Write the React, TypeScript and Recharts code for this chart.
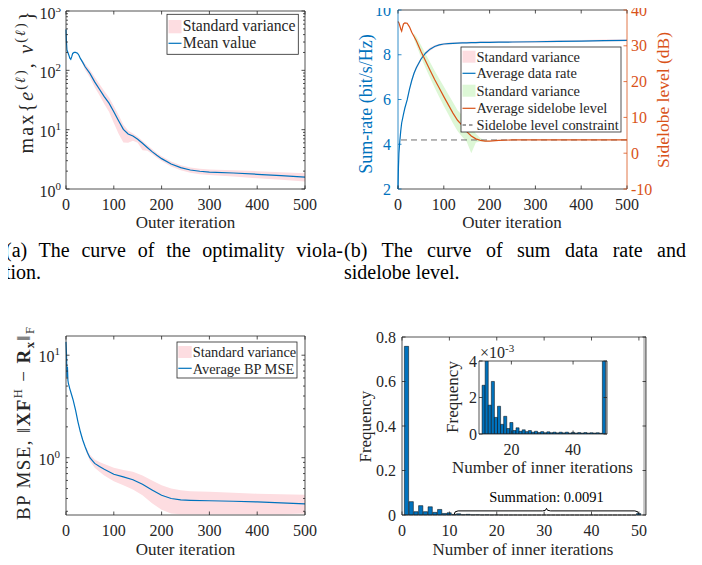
import { ComposedChart, Line, Area, Bar, XAxis, YAxis, ReferenceLine, ReferenceArea } from 'recharts';

const SERIF = '"Liberation Serif", "Times New Roman", serif';
const INK = '#262626';
const BLUE = '#0072BD';
const ORANGE = '#D95319';
const PINK = '#FDDDE1';
const GREEN = '#DDF7D6';

// (a) optimality violation
const aIter = [0, 1, 2, 4, 6, 8, 10, 12, 14, 17, 20, 24, 27, 30, 35, 40, 50, 60, 70, 80, 90, 100, 110, 120, 130, 140, 150, 160, 170, 180, 190, 200, 220, 240, 260, 280, 300, 350, 400, 450, 500];
const aMean = [490, 300, 220, 200, 180, 160, 153, 170, 193, 200, 200, 194, 180, 159, 136, 115, 89, 64, 48, 36, 28, 20, 14.1, 10.1, 8.45, 7.8, 6.9, 5.9, 5.0, 4.26, 3.7, 3.25, 2.64, 2.29, 2.09, 1.99, 1.93, 1.86, 1.77, 1.68, 1.59];
const aLo = [null, null, null, null, null, null, null, null, null, null, null, null, null, 159, 127, 101, 76, 52, 38, 27, 20, 13, 8.5, 6.1, 6.0, 6.5, 6.0, 4.5, 4.4, 3.9, 3.35, 2.95, 2.4, 2.07, 1.88, 1.78, 1.72, 1.62, 1.52, 1.43, 1.34];
const aHi = [null, null, null, null, null, null, null, null, null, null, null, null, null, 159, 146, 129, 102, 77, 59, 45, 35, 25, 17.6, 12.1, 9.7, 8.6, 7.6, 6.5, 5.5, 4.7, 4.05, 3.55, 2.9, 2.52, 2.3, 2.2, 2.14, 2.08, 2.0, 1.92, 1.84];
const aTicks = [1, 2, 3, 4, 5, 6, 7, 8, 9, 10, 20, 30, 40, 50, 60, 70, 80, 90, 100, 200, 300, 400, 500, 600, 700, 800, 900, 1000];

// (b) sum rate and sidelobe level
const bIter = [0, 1, 2, 4, 6, 8, 10, 12, 15, 20, 25, 30, 35, 40, 50, 60, 70, 80, 90, 100, 110, 120, 130, 140, 150, 160, 170, 180, 190, 200, 220, 250, 300, 350, 400, 450, 500];
const bRate = [2.0, 3.0, 3.6, 4.15, 4.6, 4.95, 5.15, 5.35, 5.62, 5.98, 6.45, 6.85, 7.17, 7.42, 7.8, 8.07, 8.25, 8.37, 8.44, 8.48, 8.5, 8.51, 8.52, 8.53, 8.53, 8.54, 8.54, 8.55, 8.55, 8.55, 8.56, 8.57, 8.58, 8.6, 8.61, 8.63, 8.64];
const bRateLo = [null, null, null, null, null, null, null, null, null, 5.9, 6.37, 6.77, 7.09, 7.34, 7.72, 7.99, 8.18, 8.31, 8.39, 8.43, 8.46, 8.47, 8.48, 8.49, 8.49, 8.5, 8.5, 8.51, 8.51, 8.51, 8.52, 8.53, 8.54, 8.56, 8.57, 8.59, 8.6];
const bRateHi = [null, null, null, null, null, null, null, null, null, 6.06, 6.53, 6.93, 7.25, 7.5, 7.88, 8.15, 8.32, 8.43, 8.49, 8.53, 8.55, 8.56, 8.57, 8.58, 8.58, 8.59, 8.59, 8.6, 8.6, 8.6, 8.61, 8.62, 8.63, 8.65, 8.66, 8.68, 8.69];
const bSide = [36.8, 36.6, 36.4, 35.6, 34.7, 34.1, 35.2, 36.1, 36.4, 36.3, 35.3, 33.8, 32.6, 31.4, 28.5, 25.8, 23.2, 20.6, 18.2, 15.8, 13.5, 11.2, 9.2, 7.8, 6.0, 4.8, 4.0, 3.6, 3.4, 3.4, 3.6, 3.7, 3.7, 3.7, 3.7, 3.7, 3.7];
const bSideLo = [null, null, null, null, null, null, null, null, null, null, null, null, 31.8, 30.2, 26.9, 23.9, 21.1, 18.3, 15.7, 13.2, 10.8, 8.4, 6.2, 4.6, 3.2, 0.0, 3.0, 3.3, 3.3, 3.3, null, null, null, null, null, null, null];
const bSideHi = [null, null, null, null, null, null, null, null, null, null, null, null, 33.4, 32.6, 30.2, 27.8, 25.4, 23.0, 20.8, 18.6, 16.4, 14.2, 12.0, 10.6, 8.8, 7.2, 5.4, 4.2, 3.6, 3.5, null, null, null, null, null, null, null];
const bConstraint = 3.7;
const rateTicks = [2, 4, 6, 8, 10];
const sideTicks = [-10, 0, 10, 20, 30, 40];

// (c) BP MSE
const cIter = [0, 1, 2, 3, 4, 5, 8, 12, 15, 20, 25, 30, 35, 40, 45, 50, 60, 70, 80, 100, 120, 140, 160, 180, 200, 220, 240, 260, 300, 350, 400, 450, 500];
const cMean = [13.5, 10.4, 6.1, 7.7, 5.7, 5.3, 4.7, 4.07, 3.65, 2.91, 2.24, 1.79, 1.49, 1.28, 1.12, 1.0, 0.88, 0.82, 0.77, 0.69, 0.65, 0.61, 0.55, 0.485, 0.43, 0.4, 0.387, 0.384, 0.38, 0.376, 0.37, 0.362, 0.354];
const cLo = [null, null, null, null, null, null, null, null, null, null, null, null, null, 1.24, 1.06, 0.93, 0.8, 0.73, 0.67, 0.59, 0.54, 0.49, 0.43, 0.36, 0.31, 0.285, 0.28, 0.28, 0.28, 0.28, 0.28, 0.28, 0.285];
const cHi = [null, null, null, null, null, null, null, null, null, null, null, null, null, 1.32, 1.18, 1.07, 0.96, 0.91, 0.87, 0.8, 0.76, 0.73, 0.67, 0.6, 0.54, 0.5, 0.48, 0.47, 0.465, 0.455, 0.445, 0.44, 0.435];
const cTicks = [0.3, 0.4, 0.5, 0.6, 0.7, 0.8, 0.9, 1, 2, 3, 4, 5, 6, 7, 8, 9, 10];

// (d) histogram of inner iterations
const dBins = [1, 2, 3, 4, 5, 6, 7, 8, 9, 10, 11, 12, 13, 14, 15, 16, 17, 18, 19, 20, 21, 22, 23, 24, 25, 26, 27, 28, 29, 30, 31, 32, 33, 34, 35, 36, 37, 38, 39, 40, 41, 42, 43, 44, 45, 46, 47, 48, 49, 50];
const dFreq = [0.758, 0.06, 0.015, 0.042, 0.015, 0.037, 0.012, 0.025, 0.007, 0.01, 0.00267, 0.0055, 0.00158, 0.00288, 0.00091, 0.00152, 0.00053, 0.00097, 0.0003, 0.00063, 0.00019, 0.00034, 0.00015, 0.00023, 0.00013, 0.00019, 0.0001, 0.00015, 0.00008, 0.00013, 0.00007, 0.00012, 0.00007, 0.0001, 0.00006, 0.0001, 0.00006, 0.0001, 0.00005, 0.00009, 0.00005, 0.00008, 0.00005, 0.00008, 0.00005, 0.00007, 0.00005, 0.00007, 0.00004, 0.0065];
const dXTicks = [0, 10, 20, 30, 40, 50];
const dYTicks = [0, 0.2, 0.4, 0.6, 0.8];
const insetXTicks = [20, 40];
const insetYTicks = [0, 0.002, 0.004];

const iterTicks = [0, 100, 200, 300, 400, 500];

type Box = { l: number; r: number; t: number; b: number };
const TL = 3.5;

function bottomTick(box: Box) {
  return (p: any) => (
    <g>
      <line x1={p.x} x2={p.x} y1={box.b} y2={box.b - TL} stroke={INK} strokeWidth={0.8} />
      <line x1={p.x} x2={p.x} y1={box.t} y2={box.t + TL} stroke={INK} strokeWidth={0.8} />
      <text x={p.x} y={box.b + 20.5} textAnchor="middle" fontFamily={SERIF} fontSize={16} fill={INK}>{p.payload.value}</text>
    </g>
  );
}

type YOpts = {
  side: 'left' | 'right';
  color: string;
  gap: number;
  mirror: boolean;
  fmt: (v: number) => any;
  minor?: (v: number) => boolean;
  dy?: number;
};

function sideTick(box: Box, o: YOpts) {
  return (p: any) => {
    const v = p.payload.value;
    const y = p.y;
    const isMinor = o.minor ? o.minor(v) : false;
    const len = isMinor ? 2 : TL;
    const ax = o.side === 'left' ? box.l : box.r;
    const dir = o.side === 'left' ? 1 : -1;
    return (
      <g>
        <line x1={ax} x2={ax + dir * len} y1={y} y2={y} stroke={o.color} strokeWidth={0.8} />
        {o.mirror ? <line x1={box.r} x2={box.r - len} y1={y} y2={y} stroke={o.color} strokeWidth={0.8} /> : null}
        {isMinor ? null : (
          <text
            x={o.side === 'left' ? box.l - o.gap : box.r + o.gap}
            y={y + (o.dy ?? 5.5)}
            textAnchor={o.side === 'left' ? 'end' : 'start'}
            fontFamily={SERIF}
            fontSize={16}
            fill={o.color}
          >
            {o.fmt(v)}
          </text>
        )}
      </g>
    );
  };
}

const pow10 = (v: number) => (
  <>
    <tspan>10</tspan>
    <tspan dy={-7} fontSize={11}>{String(Math.round(Math.log10(v)))}</tspan>
  </>
);
const isDecade = (v: number) => Math.abs(Math.log10(v) - Math.round(Math.log10(v))) < 1e-6;

function PanelA() {
  const box = { l: 66, r: 305, t: 11, b: 189 };
  const rows = aIter.map((it, i) => ({ it, m: aMean[i], band: aLo[i] == null ? null : [aLo[i], aHi[i]] }));
  return (
    <ComposedChart width={351} height={240} data={rows} margin={{ top: 11, right: 46, bottom: 0, left: 0 }}>
      <XAxis dataKey="it" type="number" domain={[0, 500]} ticks={iterTicks} interval={0} height={51} tickLine={false} axisLine={{ stroke: INK, strokeWidth: 0.8 }} tick={bottomTick(box)} />
      <YAxis type="number" scale="log" domain={[1, 1000]} allowDataOverflow ticks={aTicks} interval={0} width={66} tickLine={false} axisLine={{ stroke: INK, strokeWidth: 0.8 }}
        tick={sideTick(box, { side: 'left', color: INK, gap: 5, mirror: true, fmt: pow10, minor: (v) => !isDecade(v), dy: 7.5 })} />
      <Area dataKey="band" type="linear" stroke="none" fill={PINK} fillOpacity={1} isAnimationActive={false} />
      <Line dataKey="m" type="linear" stroke={BLUE} strokeWidth={1.2} dot={false} activeDot={false} isAnimationActive={false} />
      <ReferenceLine y={1000} stroke={INK} strokeWidth={0.8} />
      <ReferenceLine x={500} stroke={INK} strokeWidth={0.8} />
    </ComposedChart>
  );
}

function PanelB() {
  const box = { l: 47, r: 276, t: 10, b: 189 };
  const rows = bIter.map((it, i) => ({
    it,
    rate: bRate[i],
    rateBand: bRateLo[i] == null ? null : [bRateLo[i], bRateHi[i]],
    side: bSide[i],
    sideBand: bSideLo[i] == null ? null : [bSideLo[i], bSideHi[i]],
  }));
  return (
    <ComposedChart width={351} height={240} data={rows} margin={{ top: 10, right: 0, bottom: 0, left: 0 }}>
      <XAxis dataKey="it" type="number" domain={[0, 500]} ticks={iterTicks} interval={0} height={51} tickLine={false} axisLine={{ stroke: INK, strokeWidth: 0.8 }} tick={bottomTick(box)} />
      <YAxis yAxisId="L" type="number" domain={[2, 10]} allowDataOverflow ticks={rateTicks} interval={0} width={47} tickLine={false} axisLine={{ stroke: BLUE, strokeWidth: 0.8 }}
        tick={sideTick(box, { side: 'left', color: BLUE, gap: 7, mirror: false, fmt: (v) => v })} />
      <YAxis yAxisId="R" orientation="right" type="number" domain={[-10, 40]} allowDataOverflow ticks={sideTicks} interval={0} width={75} tickLine={false} axisLine={{ stroke: ORANGE, strokeWidth: 0.8 }}
        tick={sideTick(box, { side: 'right', color: ORANGE, gap: 4, mirror: false, fmt: (v) => v })} />
      <Area yAxisId="L" dataKey="rateBand" type="linear" stroke="none" fill={PINK} fillOpacity={1} isAnimationActive={false} />
      <Area yAxisId="R" dataKey="sideBand" type="linear" stroke="none" fill={GREEN} fillOpacity={1} isAnimationActive={false} />
      <ReferenceLine yAxisId="R" y={bConstraint} stroke="#6e6e6e" strokeWidth={1} strokeDasharray="6 4" />
      <Line yAxisId="L" dataKey="rate" type="linear" stroke={BLUE} strokeWidth={1.2} dot={false} activeDot={false} isAnimationActive={false} />
      <Line yAxisId="R" dataKey="side" type="linear" stroke={ORANGE} strokeWidth={1.2} dot={false} activeDot={false} isAnimationActive={false} />
      <ReferenceLine yAxisId="L" y={10} stroke={INK} strokeWidth={0.8} />
    </ComposedChart>
  );
}

function PanelC() {
  const box = { l: 66, r: 305, t: 36, b: 215 };
  const rows = cIter.map((it, i) => ({ it, m: cMean[i], band: cLo[i] == null ? null : [cLo[i], cHi[i]] }));
  return (
    <ComposedChart width={351} height={265} data={rows} margin={{ top: 36, right: 46, bottom: 0, left: 0 }}>
      <XAxis dataKey="it" type="number" domain={[0, 500]} ticks={iterTicks} interval={0} height={50} tickLine={false} axisLine={{ stroke: INK, strokeWidth: 0.8 }} tick={bottomTick(box)} />
      <YAxis type="number" scale="log" domain={[0.276, 15.4]} allowDataOverflow ticks={cTicks} interval={0} width={66} tickLine={false} axisLine={{ stroke: INK, strokeWidth: 0.8 }}
        tick={sideTick(box, { side: 'left', color: INK, gap: 6, mirror: true, fmt: pow10, minor: (v) => !isDecade(v), dy: 7 })} />
      <Area dataKey="band" type="linear" stroke="none" fill={PINK} fillOpacity={1} isAnimationActive={false} />
      <Line dataKey="m" type="linear" stroke={BLUE} strokeWidth={1.2} dot={false} activeDot={false} isAnimationActive={false} />
      <ReferenceLine y={15.4} stroke={INK} strokeWidth={0.8} />
      <ReferenceLine x={500} stroke={INK} strokeWidth={0.8} />
    </ComposedChart>
  );
}

const Brace = (p: any) => {
  const { x, y, width: w, height: h } = p;
  const yb = y + h;
  const yf = y + h * 0.4;
  const xm = x + w / 2;
  const r = 4;
  const d = `M${x},${yb} Q${x},${yf} ${x + r},${yf} L${xm - r},${yf} Q${xm},${yf} ${xm},${y} Q${xm},${yf} ${xm + r},${yf} L${x + w - r},${yf} Q${x + w},${yf} ${x + w},${yb}`;
  return <path d={d} fill="none" stroke="#000" strokeWidth={1} />;
};

function PanelD() {
  const box = { l: 51, r: 295, t: 37, b: 215 };
  const rows = dBins.map((bin, i) => ({ bin, f: dFreq[i] }));
  return (
    <ComposedChart width={351} height={265} data={rows} margin={{ top: 37, right: 56, bottom: 0, left: 0 }}>
      <XAxis dataKey="bin" type="number" domain={[0, 51.5]} ticks={dXTicks} interval={0} height={50} tickLine={false} axisLine={{ stroke: INK, strokeWidth: 0.8 }} tick={bottomTick(box)} />
      <YAxis type="number" domain={[0, 0.8]} ticks={dYTicks} interval={0} width={51} tickLine={false} axisLine={{ stroke: INK, strokeWidth: 0.8 }}
        tick={sideTick(box, { side: 'left', color: INK, gap: 6, mirror: true, fmt: (v) => v })} />
      <ReferenceArea x1={50.9} x2={51.5} fill="#c4c4c4" fillOpacity={1} stroke="none" />
      <Bar dataKey="f" fill={BLUE} stroke="#000" strokeWidth={0.5} barSize={4.74} isAnimationActive={false} />
      <ReferenceArea x1={11} x2={50} y1={0.001} y2={0.03} shape={Brace}
        label={{ value: 'Summation: 0.0091', position: 'top', offset: 6, fontSize: 14.5, fontFamily: SERIF, fill: '#000' }} />
      <ReferenceLine y={0.8} stroke={INK} strokeWidth={0.8} />
      <ReferenceLine x={51.5} stroke={INK} strokeWidth={0.8} />
    </ComposedChart>
  );
}

function Inset() {
  const box = { l: 49, r: 177, t: 16, b: 89 };
  const rows = dBins.map((bin, i) => ({ bin, f: dFreq[i] })).filter((r) => r.bin >= 11);
  return (
    <ComposedChart width={190} height={130} data={rows} margin={{ top: 16, right: 13, bottom: 0, left: 0 }}>
      <XAxis dataKey="bin" type="number" domain={[9.5, 51]} allowDataOverflow ticks={insetXTicks} interval={0} height={41} tickLine={false} axisLine={{ stroke: INK, strokeWidth: 0.8 }} tick={bottomTick(box)} />
      <YAxis type="number" domain={[0, 0.004]} allowDataOverflow ticks={insetYTicks} interval={0} width={49} tickLine={false} axisLine={{ stroke: INK, strokeWidth: 0.8 }}
        tick={sideTick(box, { side: 'left', color: INK, gap: 2, mirror: true, fmt: (v) => Math.round(v * 1000) })} />
      <ReferenceArea x1={50.45} x2={51} fill="#c4c4c4" fillOpacity={1} stroke="none" />
      <Bar dataKey="f" fill={BLUE} stroke="#000" strokeWidth={0.5} barSize={3.08} isAnimationActive={false} />
      <ReferenceLine y={0.004} stroke={INK} strokeWidth={0.8} />
      <ReferenceLine x={51} stroke={INK} strokeWidth={0.8} />
    </ComposedChart>
  );
}

const lab = { fontFamily: SERIF, fill: INK };

function Overlay() {
  return (
    <svg width={702} height={565} style={{ position: 'absolute', left: 0, top: 0, pointerEvents: 'none' }}>
      {/* axis labels */}
      <text x={185.5} y={228} textAnchor="middle" fontSize={17} {...lab}>Outer iteration</text>
      <text x={512} y={228} textAnchor="middle" fontSize={17} {...lab}>Outer iteration</text>
      <text x={185.5} y={555} textAnchor="middle" fontSize={17} {...lab}>Outer iteration</text>
      <text x={523} y={555} textAnchor="middle" fontSize={17} {...lab}>Number of inner iterations</text>
      <text x={542.5} y={472.5} textAnchor="middle" fontSize={17} {...lab}>Number of inner iterations</text>

      <text transform="translate(33,82.5) rotate(-90)" textAnchor="middle" fontSize={20} textLength={142} lengthAdjust="spacing" {...lab}>
        max{'{'}<tspan fontStyle="italic">e</tspan><tspan fontSize={14} dy={-8}>(</tspan><tspan fontSize={14} fontStyle="italic">ℓ</tspan><tspan fontSize={14}>)</tspan><tspan dy={8}>, </tspan><tspan fontStyle="italic">v</tspan><tspan fontSize={14} dy={-8}>(</tspan><tspan fontSize={14} fontStyle="italic">ℓ</tspan><tspan fontSize={14}>)</tspan><tspan dy={8}>{'}'}</tspan>
      </text>
      <text transform="translate(372,104) rotate(-90)" textAnchor="middle" fontSize={18} fontFamily={SERIF} fill={BLUE}>Sum-rate (bit/s/Hz)</text>
      <text transform="translate(669,100) rotate(-90)" textAnchor="middle" fontSize={17.5} fontFamily={SERIF} fill={ORANGE}>Sidelobe level (dB)</text>
      <text transform="translate(30,423.5) rotate(-90)" textAnchor="middle" fontSize={19} textLength={193} lengthAdjust="spacing" {...lab}>
        BP MSE, ‖<tspan fontWeight="bold">XF</tspan><tspan fontSize={12.5} dy={-8}>H</tspan><tspan dy={8}> − </tspan><tspan fontWeight="bold">R</tspan><tspan fontSize={12.5} fontWeight="bold" dy={4}>x</tspan><tspan dy={-4}>‖</tspan><tspan fontSize={12.5} dy={4}>F</tspan>
      </text>
      <text transform="translate(371,426.7) rotate(-90)" textAnchor="middle" fontSize={17} {...lab}>Frequency</text>
      <text transform="translate(458,397) rotate(-90)" textAnchor="middle" fontSize={17} {...lab}>Frequency</text>
      <text x={480} y={358} fontSize={16} {...lab}>×10<tspan dy={-6} fontSize={11}>-3</tspan></text>

      {/* legend (a) */}
      <g transform="translate(167,14.3)">
        <rect x={0} y={0} width={131.3} height={40} fill="#fff" stroke={INK} strokeWidth={0.8} />
        <rect x={1.5} y={5.7} width={13} height={13.3} fill={PINK} />
        <text x={15.7} y={16.4} fontSize={15.7} {...lab}>Standard variance</text>
        <line x1={1.5} x2={14.5} y1={29} y2={29} stroke={BLUE} strokeWidth={1.2} />
        <text x={15.7} y={33.8} fontSize={15.7} {...lab}>Mean value</text>
      </g>

      {/* legend (b) */}
      <g transform="translate(461,47)">
        <rect x={0} y={0} width={160} height={85} fill="#fff" stroke={INK} strokeWidth={0.8} />
        <rect x={1.5} y={3.7} width={13} height={12} fill={PINK} />
        <text x={15.5} y={14.7} fontSize={14.4} {...lab}>Standard variance</text>
        <line x1={1.5} x2={14.5} y1={26.3} y2={26.3} stroke={BLUE} strokeWidth={1.2} />
        <text x={15.5} y={31.3} fontSize={14.4} {...lab}>Average data rate</text>
        <rect x={1.5} y={37.7} width={13} height={12} fill={GREEN} />
        <text x={15.5} y={48.7} fontSize={14.4} {...lab}>Standard variance</text>
        <line x1={1.5} x2={14.5} y1={61.3} y2={61.3} stroke={ORANGE} strokeWidth={1.2} />
        <text x={15.5} y={66.3} fontSize={14.4} {...lab}>Average sidelobe level</text>
        <line x1={1.5} x2={14.5} y1={78} y2={78} stroke="#404040" strokeWidth={1} strokeDasharray="3.5 3" />
        <text x={15.5} y={83} fontSize={14.4} {...lab}>Sidelobe level constraint</text>
      </g>

      {/* legend (c) */}
      <g transform="translate(177,342)">
        <rect x={0} y={0} width={120} height={36} fill="#fff" stroke={INK} strokeWidth={0.8} />
        <rect x={1.3} y={4} width={13.4} height={12} fill={PINK} />
        <text x={15.7} y={14.7} fontSize={14.4} {...lab}>Standard variance</text>
        <line x1={1.3} x2={14.7} y1={26.3} y2={26.3} stroke={BLUE} strokeWidth={1.2} />
        <text x={15.7} y={32} fontSize={14.4} {...lab}>Average BP MSE</text>
      </g>
    </svg>
  );
}

const cap = {
  position: 'absolute' as const,
  fontFamily: SERIF,
  fontSize: 20,
  lineHeight: '22px',
  height: 22,
  color: '#000',
};

export default function App() {
  return (
    <div style={{ position: 'relative', width: 702, height: 565, margin: -8, background: '#fff', overflow: 'hidden' }}>
      <div style={{ position: 'absolute', left: 0, top: 0 }}><PanelA /></div>
      <div style={{ position: 'absolute', left: 351, top: 0 }}><PanelB /></div>
      <div style={{ position: 'absolute', left: 0, top: 300 }}><PanelC /></div>
      <div style={{ position: 'absolute', left: 351, top: 300 }}><PanelD /></div>
      <div style={{ position: 'absolute', left: 430, top: 345 }}><Inset /></div>
      <Overlay />
      <div style={{ ...cap, left: 5, top: 239.3, width: 338, textAlign: 'justify', textAlignLast: 'justify' }}>(a) The curve of the optimality viola-</div>
      <div style={{ ...cap, left: 5, top: 261.3 }}>tion.</div>
      <div style={{ ...cap, left: 344, top: 239.3, width: 342, textAlign: 'justify', textAlignLast: 'justify' }}>(b) The curve of sum data rate and</div>
      <div style={{ ...cap, left: 344, top: 261.3 }}>sidelobe level.</div>
    </div>
  );
}
